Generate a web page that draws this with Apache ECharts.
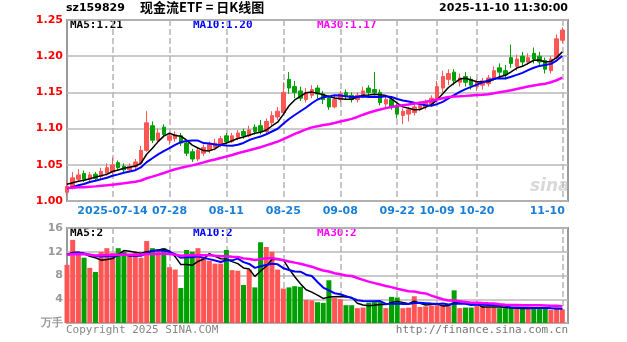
<!DOCTYPE html>
<html>
<head>
<meta charset="utf-8">
<script src="https://cdn.jsdelivr.net/npm/echarts@6/dist/echarts.min.js"></script>
<style>
  html, body { margin: 0; padding: 0; background: #ffffff; }
  #chart { width: 627px; height: 342px; }
</style>
</head>
<body>
<div id="chart"></div>
<script>
// Trading days, 2025-07-02 .. 2025-11-10
const dates = [
  '07-02','07-03','07-04','07-07','07-08','07-09','07-10','07-11','07-14','07-15',
  '07-16','07-17','07-18','07-21','07-22','07-23','07-24','07-25','07-28','07-29',
  '07-30','07-31','08-01','08-04','08-05','08-06','08-07','08-08','08-11','08-12',
  '08-13','08-14','08-15','08-18','08-19','08-20','08-21','08-22','08-25','08-26',
  '08-27','08-28','08-29','09-01','09-02','09-03','09-04','09-05','09-08','09-09',
  '09-10','09-11','09-12','09-15','09-16','09-17','09-18','09-19','09-22','09-23',
  '09-24','09-25','09-26','09-29','09-30','10-09','10-10','10-13','10-14','10-15',
  '10-16','10-17','10-20','10-21','10-22','10-23','10-24','10-27','10-28','10-29',
  '10-30','10-31','11-03','11-04','11-05','11-06','11-07','11-10'
];

const opens = [
  1.012,1.020,1.030,1.038,1.030,1.037,1.034,1.038,1.040,1.053,
  1.048,1.043,1.047,1.053,1.070,1.104,1.084,1.102,1.084,1.086,
  1.090,1.080,1.068,1.058,1.066,1.070,1.074,1.078,1.090,1.082,
  1.088,1.096,1.090,1.102,1.104,1.096,1.108,1.116,1.122,1.168,
  1.158,1.152,1.140,1.146,1.156,1.148,1.142,1.130,1.140,1.150,
  1.146,1.140,1.146,1.156,1.154,1.150,1.134,1.140,1.132,1.118,
  1.120,1.122,1.128,1.130,1.134,1.140,1.156,1.168,1.178,1.164,
  1.172,1.168,1.158,1.160,1.162,1.168,1.184,1.180,1.198,1.186,
  1.200,1.192,1.204,1.200,1.194,1.180,1.198,1.222
];
const closes = [
  1.020,1.032,1.036,1.030,1.036,1.031,1.041,1.046,1.050,1.046,
  1.043,1.048,1.054,1.070,1.108,1.084,1.094,1.092,1.090,1.092,
  1.080,1.066,1.058,1.070,1.074,1.078,1.080,1.086,1.082,1.090,
  1.094,1.090,1.098,1.096,1.096,1.110,1.118,1.124,1.150,1.156,
  1.150,1.142,1.150,1.154,1.148,1.140,1.130,1.140,1.148,1.144,
  1.140,1.146,1.152,1.150,1.150,1.136,1.140,1.130,1.120,1.124,
  1.126,1.130,1.132,1.136,1.142,1.158,1.172,1.176,1.166,1.170,
  1.164,1.160,1.164,1.166,1.170,1.180,1.178,1.174,1.190,1.196,
  1.192,1.198,1.196,1.192,1.182,1.196,1.224,1.236
];
const lows = [
  1.008,1.016,1.026,1.026,1.027,1.028,1.030,1.035,1.037,1.043,
  1.040,1.040,1.044,1.050,1.068,1.080,1.080,1.088,1.078,1.082,
  1.076,1.062,1.054,1.055,1.062,1.066,1.070,1.074,1.078,1.080,
  1.084,1.086,1.088,1.092,1.092,1.094,1.104,1.112,1.120,1.148,
  1.142,1.138,1.136,1.142,1.142,1.134,1.126,1.128,1.136,1.140,
  1.136,1.136,1.142,1.144,1.146,1.132,1.128,1.126,1.114,1.106,
  1.110,1.118,1.124,1.126,1.130,1.136,1.150,1.160,1.160,1.158,
  1.158,1.154,1.152,1.154,1.158,1.166,1.170,1.168,1.184,1.180,
  1.186,1.188,1.190,1.188,1.176,1.176,1.196,1.218
];
const highs = [
  1.028,1.040,1.044,1.042,1.040,1.040,1.046,1.052,1.060,1.056,
  1.052,1.052,1.058,1.076,1.124,1.110,1.100,1.106,1.094,1.096,
  1.094,1.084,1.072,1.074,1.078,1.082,1.086,1.090,1.094,1.094,
  1.098,1.100,1.104,1.106,1.112,1.114,1.124,1.130,1.164,1.178,
  1.166,1.158,1.156,1.160,1.160,1.152,1.146,1.146,1.152,1.154,
  1.150,1.150,1.158,1.160,1.178,1.154,1.144,1.144,1.134,1.128,
  1.130,1.136,1.138,1.140,1.146,1.166,1.180,1.182,1.182,1.176,
  1.178,1.172,1.168,1.170,1.174,1.186,1.190,1.188,1.216,1.202,
  1.206,1.204,1.212,1.206,1.198,1.200,1.230,1.240
];
const volumes = [
  9.8,14.0,12.0,11.0,9.3,8.6,12.0,12.6,11.8,12.6,
  12.0,11.4,11.8,11.0,13.8,12.6,12.3,12.6,9.4,9.0,
  5.9,12.3,12.0,12.6,11.0,10.5,10.0,10.0,12.3,8.9,
  8.8,6.4,9.0,6.0,13.6,12.8,12.0,9.0,5.8,6.0,
  6.2,6.1,3.9,3.8,3.5,3.4,7.2,4.2,4.0,3.0,
  3.0,2.5,2.6,3.4,3.5,3.5,2.5,4.4,4.3,2.5,
  2.6,4.5,2.7,2.8,2.9,3.0,3.0,2.8,5.5,2.5,
  2.6,2.6,2.9,2.8,2.6,2.6,2.5,2.5,2.5,2.4,
  2.4,2.5,2.6,2.6,2.5,2.2,2.4,2.3
];

// 29 sessions before 07-02, only feeding the moving averages
const priorCloses = [
  1.020,1.018,1.022,1.019,1.016,1.021,1.024,1.020,1.017,1.015,
  1.019,1.022,1.018,1.014,1.016,1.020,1.017,1.013,1.015,1.018,
  1.012,1.010,1.013,1.009,1.012,1.022,1.025,1.023,1.026
];
const priorVolumes = [
  11.5,10.8,12.2,11.0,12.6,10.4,11.8,12.0,11.2,10.6,
  12.4,11.6,10.9,11.3,12.1,11.7,10.5,11.9,12.3,11.1,
  10.8,11.4,12.0,11.6,10.9,12.5,11.8,12.2,11.5
];

const tickDates = ['07-14','07-28','08-11','08-25','09-08','09-22','10-09','10-20','11-10'];
const priceTicks = [1.00, 1.05, 1.10, 1.15, 1.20, 1.25];
const volumeTicks = [0, 4, 8, 12, 16];
const maPeriods = [5, 10, 30];

const RED = '#ff5555';
const GREEN = '#00a000';
const MA_COLORS = ['#000000', '#0000ff', '#ff00ff'];
const MA_WIDTHS = [1.5, 2, 2.5];

// n-day average over history + shown range, returned for the shown range only
function movingAverage(history, values, n) {
  const all = history.concat(values);
  const off = history.length;
  return values.map((_, i) => {
    const end = off + i;
    const from = Math.max(0, end - n + 1);
    let s = 0;
    for (let k = from; k <= end; k++) s += all[k];
    return +(s / (end - from + 1)).toFixed(4);
  });
}

const candles = dates.map((_, i) => [opens[i], closes[i], lows[i], highs[i]]);
const priceMA = maPeriods.map(n => movingAverage(priorCloses, closes, n));
const volMA = maPeriods.map(n => movingAverage(priorVolumes, volumes, n));
const volBars = volumes.map((v, i) => ({
  value: v,
  itemStyle: { color: closes[i] >= opens[i] ? RED : GREEN }
}));

const showTick = (idx, val) => tickDates.indexOf(val) >= 0;
const last = a => a[a.length - 1];

const gridLeft = 67, gridRight = 59;
const splitX = { show: true, interval: showTick, lineStyle: { color: '#b4b4b4', type: [6, 3], width: 1.5 } };

const chart = echarts.init(document.getElementById('chart'), null, { renderer: 'canvas' });

const legendText = (txt, x, y, color) => ({
  type: 'text', left: x, top: y,
  style: { text: txt, fill: color, font: 'bold 11px "DejaVu Sans Mono", monospace' }
});

const graphics = [
  { type: 'text', left: 66, top: 3, style: { text: 'sz159829', fill: '#000', font: 'bold 11px "DejaVu Sans", sans-serif' } },
  { type: 'text', left: 140, top: 1, style: { text: '现金流ETF = 日K线图', fill: '#000', font: 'bold 13px "Noto Sans CJK SC", sans-serif' } },
  { type: 'text', right: 59, top: 3, style: { text: '2025-11-10 11:30:00', fill: '#000', font: 'bold 11px "DejaVu Sans", sans-serif' } },
  legendText('MA5:' + last(priceMA[0]).toFixed(2), 70, 20, MA_COLORS[0]),
  legendText('MA10:' + last(priceMA[1]).toFixed(2), 193, 20, MA_COLORS[1]),
  legendText('MA30:' + last(priceMA[2]).toFixed(2), 317, 20, MA_COLORS[2]),
  legendText('MA5:' + Math.floor(last(volMA[0])), 70, 228, MA_COLORS[0]),
  legendText('MA10:' + Math.floor(last(volMA[1])), 193, 228, MA_COLORS[1]),
  legendText('MA30:' + Math.floor(last(volMA[2])), 317, 228, MA_COLORS[2]),
  { type: 'text', left: 530, top: 178, style: { text: 'sina', fill: 'rgba(170,170,170,0.45)', font: 'italic bold 17px "DejaVu Sans", sans-serif' } },
  { type: 'text', left: 66, top: 325, style: { text: 'Copyright 2025 SINA.COM', fill: '#888', font: '11px "DejaVu Sans Mono", monospace' } },
  { type: 'text', right: 59, top: 325, style: { text: 'http://finance.sina.com.cn', fill: '#777', font: '11px "DejaVu Sans Mono", monospace' } }
];

const option = {
  animation: false,
  backgroundColor: '#ffffff',
  grid: [
    { left: gridLeft, right: gridRight, top: 20, height: 181, show: true, borderColor: '#9a9a9a', borderWidth: 2, backgroundColor: 'transparent' },
    { left: gridLeft, right: gridRight, top: 228, height: 95, show: true, borderColor: '#9a9a9a', borderWidth: 2, backgroundColor: 'transparent' }
  ],
  xAxis: [
    {
      type: 'category', gridIndex: 0, data: dates, boundaryGap: false, max: dates.length,
      axisLine: { show: false }, axisTick: { show: false },
      splitLine: splitX,
      axisLabel: {
        interval: showTick, margin: 5, color: '#1a7fd6', fontSize: 11, fontWeight: 'bold',
        fontFamily: 'DejaVu Sans',
        formatter: (v, idx) => {
          if (v === tickDates[0]) return '2025-' + v;
          if (v === tickDates[tickDates.length - 1]) return '{r|' + v + '}';
          return v;
        },
        rich: { r: { color: '#1a7fd6', fontSize: 11, fontWeight: 'bold', fontFamily: 'DejaVu Sans', padding: [0, 30, 0, 0] } }
      }
    },
    {
      type: 'category', gridIndex: 1, data: dates, boundaryGap: false, max: dates.length,
      axisLine: { show: false }, axisTick: { show: false }, axisLabel: { show: false },
      splitLine: splitX
    }
  ],
  yAxis: [
    {
      type: 'value', gridIndex: 0, min: priceTicks[0], max: priceTicks[priceTicks.length - 1], interval: 0.05,
      axisLine: { show: false }, axisTick: { show: false },
      splitLine: { lineStyle: { color: '#b8b8b8', width: 1.5 } },
      axisLabel: { color: '#ff0000', fontSize: 11, fontWeight: 'bold', fontFamily: 'DejaVu Sans', margin: 4, formatter: v => v.toFixed(2) }
    },
    {
      type: 'value', gridIndex: 1, min: volumeTicks[0], max: volumeTicks[volumeTicks.length - 1], interval: 4,
      axisLine: { show: false }, axisTick: { show: false },
      splitLine: { lineStyle: { color: '#b8b8b8', width: 1.5 } },
      axisLabel: { color: '#999999', fontSize: 11, fontWeight: 'bold', fontFamily: 'DejaVu Sans', margin: 4, formatter: v => v === 0 ? '万手' : String(v) }
    }
  ],
  series: [
    {
      type: 'candlestick', xAxisIndex: 0, yAxisIndex: 0, data: candles, barWidth: 4,
      itemStyle: { color: RED, color0: GREEN, borderColor: RED, borderColor0: GREEN, borderWidth: 1 }
    },
    ...priceMA.map((d, k) => ({
      type: 'line', xAxisIndex: 0, yAxisIndex: 0, data: d, showSymbol: false, smooth: false,
      lineStyle: { color: MA_COLORS[k], width: MA_WIDTHS[k] }, z: 3 + k
    })),
    {
      type: 'bar', xAxisIndex: 1, yAxisIndex: 1, data: volBars, barWidth: 5
    },
    ...volMA.map((d, k) => ({
      type: 'line', xAxisIndex: 1, yAxisIndex: 1, data: d, showSymbol: false,
      lineStyle: { color: MA_COLORS[k], width: MA_WIDTHS[k] }, z: 3 + k
    }))
  ],
  graphic: graphics
};

chart.setOption(option);
</script>
</body>
</html>
